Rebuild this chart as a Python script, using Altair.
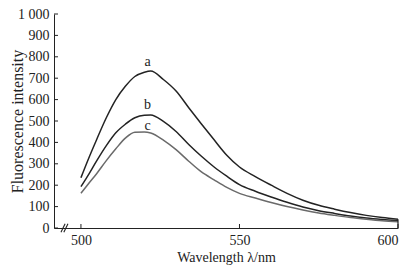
import altair as alt
import pandas as pd

wavelength = [500, 502, 505, 508, 511, 514, 517, 520, 522, 526, 530, 534, 538,
              542, 546, 550, 555, 560, 565, 570, 575, 580, 585, 590, 595, 600]
series_a = [235, 310, 415, 515, 600, 662, 708, 728, 734, 694, 640, 562, 486,
            412, 340, 285, 240, 200, 162, 130, 106, 88, 72, 59, 49, 41]
series_b = [193, 240, 315, 385, 445, 485, 515, 527, 528, 498, 451, 390, 335,
            285, 242, 203, 172, 145, 120, 98, 81, 68, 56, 47, 40, 34]
series_c = [162, 200, 255, 315, 370, 420, 448, 449, 444, 411, 366, 312, 262,
            225, 190, 162, 140, 119, 100, 84, 70, 59, 49, 41, 34, 29]
series_names = ["a", "b", "c"]
series_colors = ["#232323", "#232323", "#6a6a6a"]
label_wl = [521, 521, 521]
label_val = [776, 575, 477]
y_ticks = [0, 100, 200, 300, 400, 500, 600, 700, 800, 900, 1000]
x_ticks = [500, 550, 600]
x_domain = [491.5, 600]

rows = []
for name, vals in zip(series_names, [series_a, series_b, series_c]):
    for w, v in zip(wavelength, vals):
        rows.append({"wl": w, "val": v, "s": name})
df = pd.DataFrame(rows)
lab = pd.DataFrame({"wl": label_wl, "val": label_val, "s": series_names})
yt = pd.DataFrame({"v": y_ticks})
xt = pd.DataFrame({"v": x_ticks})
brk = pd.DataFrame({"x": [493.7, 494.6], "x2": [495.0, 495.9], "y": [-20, -20], "y2": [20, 20]})
close = pd.DataFrame({"x": [600], "y": [0], "y2": [series_a[-1]]})

FONT = "Liberation Serif"
xs = alt.Scale(domain=x_domain, nice=False, zero=False)
ys = alt.Scale(domain=[0, 1000], nice=False)
xa = alt.Axis(
    values=x_ticks, ticks=False, title="Wavelength λ/nm", grid=False,
    labelFont=FONT, labelFontSize=14, labelColor="#222", labelPadding=5,
    titleFont=FONT, titleFontSize=14, titleFontWeight="normal", titleColor="#222",
    titlePadding=3, domainColor="#222")
ya = alt.Axis(
    values=y_ticks, ticks=False, title="Fluorescence intensity", grid=False,
    labelOverlap=False, labelFlush=False,
    labelExpr="datum.value == 1000 ? '1 000' : datum.label",
    labelFont=FONT, labelFontSize=14, labelColor="#222", labelPadding=5,
    titleFont=FONT, titleFontSize=16, titleFontWeight="normal", titleColor="#222",
    titleX=-37, titleBaseline="middle", domainColor="#222")

lines = alt.Chart(df).mark_line(strokeWidth=1.5, interpolate="monotone").encode(
    x=alt.X("wl:Q", scale=xs, axis=xa, title="Wavelength λ/nm"),
    y=alt.Y("val:Q", scale=ys, axis=ya, title="Fluorescence intensity"),
    color=alt.Color("s:N", scale=alt.Scale(domain=series_names, range=series_colors), legend=None),
)

labels = alt.Chart(lab).mark_text(font=FONT, fontSize=14, color="#222", baseline="middle").encode(
    x=alt.X("wl:Q", scale=xs, axis=xa, title="Wavelength λ/nm"),
    y=alt.Y("val:Q", scale=ys, axis=ya, title="Fluorescence intensity"), text="s:N")

yticks = alt.Chart(yt).mark_rule(color="#222", strokeWidth=1).encode(
    y=alt.Y("v:Q", scale=ys, axis=ya, title="Fluorescence intensity"),
    x=alt.value(0), x2=alt.value(4))
xticks = alt.Chart(xt).mark_rule(color="#222", strokeWidth=1).encode(
    x=alt.X("v:Q", scale=xs, axis=xa, title="Wavelength λ/nm"),
    y=alt.value(214), y2=alt.value(210))
breaks = alt.Chart(brk).mark_rule(color="#222", strokeWidth=1.1).encode(
    x=alt.X("x:Q", scale=xs, axis=xa, title="Wavelength λ/nm"), x2="x2:Q",
    y=alt.Y("y:Q", scale=ys, axis=ya, title="Fluorescence intensity"), y2="y2:Q")
closing = alt.Chart(close).mark_rule(color="#222", strokeWidth=1.2).encode(
    x=alt.X("x:Q", scale=xs, axis=xa, title="Wavelength λ/nm"),
    y=alt.Y("y:Q", scale=ys, axis=ya, title="Fluorescence intensity"), y2="y2:Q")

chart = alt.layer(lines, labels, yticks, xticks, breaks, closing).properties(
    width=344, height=214,
    autosize=alt.AutoSizeParams(type="none"),
    padding={"left": 46, "top": 6, "right": 5, "bottom": 40},
    background="white",
).configure_view(stroke=None)

chart.save("out.html", embed_options={"renderer": "svg", "actions": False})
